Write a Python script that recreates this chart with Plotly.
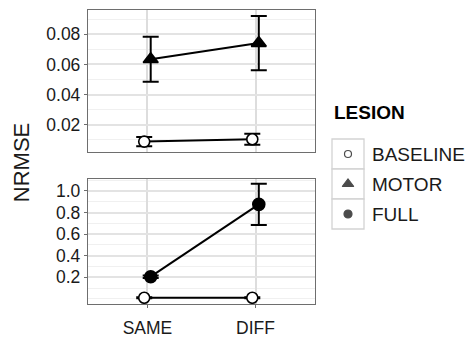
import plotly.graph_objects as go

conditions = ["SAME", "DIFF"]
lesions = ["BASELINE", "MOTOR", "FULL"]

# top panel
baseline_top = [0.0087, 0.0103]
baseline_top_err = [0.0031, 0.0036]
motor_top = [0.0635, 0.0742]
motor_top_err = [0.0150, 0.0180]

# bottom panel
baseline_bot = [0.011, 0.011]
baseline_bot_err = [0.004, 0.004]
full_bot = [0.206, 0.876]
full_bot_err = [0.012, 0.190]

dodge = 0.03
xi = list(range(len(conditions)))
x_left = [i - dodge for i in xi]
x_right = [i + dodge for i in xi]

FONT = "Liberation Sans, Arial, sans-serif"
TXT = "#1A1A1A"
fig = go.Figure()

styles = {
    "BASELINE": dict(symbol="circle", color="white"),
    "MOTOR": dict(symbol="triangle-up", color="black"),
    "FULL": dict(symbol="circle", color="black"),
}
sizes = {"BASELINE": 11, "MOTOR": 13, "FULL": 12}
key_sizes = {"BASELINE": 7, "MOTOR": 10, "FULL": 8}

def add(x, y, err, name, xa, ya):
    fig.add_trace(go.Scatter(
        x=x, y=y, mode="lines", line=dict(color="black", width=2),
        xaxis=xa, yaxis=ya, showlegend=False, hoverinfo="skip"))
    fig.add_trace(go.Scatter(
        x=x, y=y, mode="markers", name=name,
        marker=dict(symbol=styles[name]["symbol"], size=sizes[name],
                    color=styles[name]["color"], line=dict(color="black", width=1.6)),
        error_y=dict(type="data", array=err, visible=True, color="black",
                     thickness=2, width=8),
        xaxis=xa, yaxis=ya, showlegend=False))

add(x_left, baseline_top, baseline_top_err, "BASELINE", "x2", "y2")
add(x_right, motor_top, motor_top_err, "MOTOR", "x2", "y2")
add(x_left, baseline_bot, baseline_bot_err, "BASELINE", "x", "y")
add(x_right, full_bot, full_bot_err, "FULL", "x", "y")

# legend keys: one glyph per lesion on a small categorical axis
fig.add_trace(go.Scatter(
    x=[0] * len(lesions), y=lesions, mode="markers",
    marker=dict(symbol=[styles[n]["symbol"] for n in lesions],
                size=[key_sizes[n] for n in lesions],
                color=[styles[n]["color"] for n in lesions],
                line=dict(color="black", width=1.2)),
    xaxis="x3", yaxis="y3", showlegend=False, hoverinfo="skip"))

W, H = 468, 339
L, R, T, B = 88, 2, 10, 35
PW, PH = W - L - R, H - T - B
def fx(px):
    return (px - L) / PW
def fy(py):
    return (H - B - py) / PH

main_dom = [0, fx(315)]
key_x = [fx(332), fx(364)]
key_edges = [fy(139), fy(169), fy(199), fy(229)]

grid_major = "#E3E3E3"
grid_minor = "#F0F0F0"
axis_common = dict(showline=True, linecolor="#6E6E6E", linewidth=1.3, mirror=True,
                   ticks="outside", ticklen=3, tickcolor="#6E6E6E", zeroline=False,
                   automargin=False,
                   tickfont=dict(family=FONT, size=17.5, color=TXT))

xrange = [-0.55, 1.55]

shapes = []
for i in range(3):
    shapes.append(dict(type="rect", xref="paper", yref="paper", x0=key_x[0], x1=key_x[1],
                       y0=key_edges[i + 1], y1=key_edges[i], fillcolor="white",
                       line=dict(color="#D3D3D3", width=1.3), layer="below"))

fig.update_layout(
    width=W, height=H,
    margin=dict(l=L, r=R, t=T, b=B),
    paper_bgcolor="white", plot_bgcolor="white",
    font=dict(family=FONT, size=17, color=TXT),
    showlegend=False,
    xaxis=dict(domain=main_dom, range=xrange, tickmode="array", tickvals=xi,
               ticktext=conditions, showgrid=True, gridcolor="#DDDDDD", gridwidth=1.8,
               anchor="y", ticklabelstandoff=5, **axis_common),
    xaxis2=dict(domain=main_dom, range=xrange, tickmode="array", tickvals=xi,
                showticklabels=False, ticks="", showgrid=True, gridcolor="#DDDDDD",
                gridwidth=1.8, anchor="y2", matches="x", automargin=False,
                showline=True, linecolor="#6E6E6E", linewidth=1.3, mirror=True, zeroline=False),
    yaxis=dict(domain=[0, fy(179)], range=[-0.047, 1.111], tickmode="array",
               tickvals=[0.2, 0.4, 0.6, 0.8, 1.0], ticktext=["0.2", "0.4", "0.6", "0.8", "1.0"],
               showgrid=True, gridcolor=grid_major, gridwidth=1.5,
               minor=dict(tickmode="array", tickvals=[0.0, 0.1, 0.3, 0.5, 0.7, 0.9, 1.1],
                          showgrid=True, gridcolor=grid_minor, gridwidth=1, ticks=""),
               anchor="x", **axis_common),
    yaxis2=dict(domain=[fy(152), 1], range=[0.0018, 0.0962], tickmode="array",
                tickvals=[0.02, 0.04, 0.06, 0.08], ticktext=["0.02", "0.04", "0.06", "0.08"],
                showgrid=True, gridcolor=grid_major, gridwidth=1.5,
                minor=dict(tickmode="array", tickvals=[0.01, 0.03, 0.05, 0.07, 0.09],
                           showgrid=True, gridcolor=grid_minor, gridwidth=1, ticks=""),
                anchor="x2", **axis_common),
    xaxis3=dict(domain=key_x, range=[-1, 1], anchor="y3", visible=False, fixedrange=True),
    yaxis3=dict(domain=[key_edges[3], key_edges[0]], type="category",
                categoryorder="array", categoryarray=lesions, range=[2.5, -0.5],
                anchor="x3", side="right", showgrid=False, zeroline=False, showline=False,
                ticks="", ticklabelstandoff=7, automargin=False, fixedrange=True,
                tickfont=dict(family=FONT, size=19, color=TXT)),
    shapes=shapes,
    annotations=[
        dict(text="NRMSE", xref="paper", yref="paper", x=fx(21.7), y=fy(162.5),
             textangle=-90, showarrow=False, xanchor="center", yanchor="middle",
             font=dict(family=FONT, size=22, color=TXT)),
        dict(text="<b>LESION</b>", xref="paper", yref="paper", x=fx(332), y=fy(113),
             showarrow=False, xanchor="left", yanchor="middle",
             font=dict(family=FONT, size=19, color="black")),
    ],
)

fig.write_html("out.html", config={"displayModeBar": False},
               post_script="document.body.style.margin='0';")
